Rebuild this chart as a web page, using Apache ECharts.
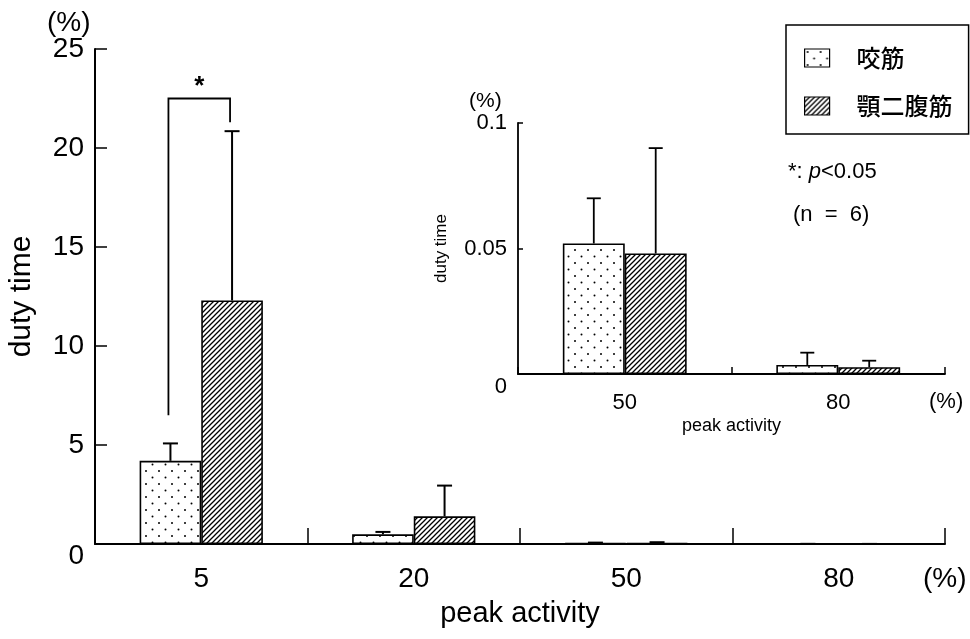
<!DOCTYPE html>
<html>
<head>
<meta charset="utf-8">
<title>duty time vs peak activity</title>
<script src="https://cdn.jsdelivr.net/npm/echarts@6/dist/echarts.min.js"></script>
<style>
  html, body { margin: 0; padding: 0; background: #fff; }
  #chart { width: 970px; height: 639px; }
</style>
</head>
<body>
<div id="chart"></div>
<script>
// Peak-activity groups (% of maximum) and the two muscles
const categories = ['5', '20', '50', '80'];
const seriesNames = ['咬筋', '顎二腹筋'];

// Mean duty time (%) and standard deviation per group
const masseterMean = [4.2, 0.49, 0.052, 0.0036];
const masseterSD = [0.88, 0.12, 0.018, 0.0049];
const digastricMean = [12.3, 1.4, 0.048, 0.0027];
const digastricSD = [8.55, 1.55, 0.042, 0.0026];

// Enlarged panel shows groups from this index on (50 and 80)
const insetStart = 2;

// Axis tick values
const mainYTicks = [0, 5, 10, 15, 20, 25];
const insetYTicks = [0, 0.05, 0.1];

// Significance bracket at the 5% group: left foot, top, right foot (duty time %)
const sigBracket = [6.5, 22.5, 21.3];

const BAR_RATIO = 0.29;
const FONT = "'Liberation Sans', Arial, sans-serif";
const CJK = "'Noto Sans CJK JP', 'Noto Sans CJK SC', sans-serif";

// Fill patterns: sparse staggered dots and dense forward hatching
function dotPattern() {
  const c = document.createElement('canvas');
  c.width = 13; c.height = 13;
  const g = c.getContext('2d');
  g.fillStyle = '#fff'; g.fillRect(0, 0, 13, 13);
  g.fillStyle = '#000';
  g.beginPath(); g.arc(3, 3, 1.0, 0, Math.PI * 2); g.fill();
  g.beginPath(); g.arc(9.5, 9.5, 1.0, 0, Math.PI * 2); g.fill();
  return c;
}
function hatchPattern() {
  const s = 5;
  const c = document.createElement('canvas');
  c.width = s; c.height = s;
  const g = c.getContext('2d');
  g.fillStyle = '#fff'; g.fillRect(0, 0, s, s);
  g.strokeStyle = '#000'; g.lineWidth = 1.3;
  g.beginPath();
  g.moveTo(0, s); g.lineTo(s, 0);
  g.moveTo(-1, 1); g.lineTo(1, -1);
  g.moveTo(s - 1, s + 1); g.lineTo(s + 1, s - 1);
  g.stroke();
  return c;
}
const dotFill = { image: dotPattern(), repeat: 'repeat' };
const hatchFill = { image: hatchPattern(), repeat: 'repeat' };

function tickSpec(ticks) {
  return { min: ticks[0], max: ticks[ticks.length - 1], interval: ticks[1] - ticks[0] };
}

// Error bar: stem from bar top to mean+SD with a short cap
function makeErrorRenderer(lineWidth, cap) {
  return function (params, api) {
    const cat = api.value(0), mean = api.value(1), sd = api.value(2), side = api.value(3);
    const band = api.size([1, 0])[0];
    const x = api.coord([cat, 0])[0] + side * band * BAR_RATIO / 2;
    const y0 = api.coord([cat, mean])[1];
    const y1 = api.coord([cat, mean + sd])[1];
    const st = { stroke: '#000', lineWidth: lineWidth };
    return {
      type: 'group',
      children: [
        { type: 'line', shape: { x1: x, y1: y0, x2: x, y2: y1 }, style: st },
        { type: 'line', shape: { x1: x - cap, y1: y1, x2: x + cap, y2: y1 }, style: st }
      ]
    };
  };
}

function errorData(from) {
  const rows = [];
  for (let i = from; i < categories.length; i++) {
    rows.push([i - from, masseterMean[i], masseterSD[i], -1]);
    rows.push([i - from, digastricMean[i], digastricSD[i], 1]);
  }
  return rows;
}

const zeroLow = {
  formatter: function (v) { return v === 0 ? '{z|0}' : String(v); },
  rich: { z: { padding: [25, 0, 0, 0] } }
};

const chart = echarts.init(document.getElementById('chart'), null, { renderer: 'canvas' });

const mainY = tickSpec(mainYTicks);
const insetY = tickSpec(insetYTicks);
const insetCats = categories.slice(insetStart);

chart.setOption({
  backgroundColor: '#fff',
  animation: false,
  textStyle: { fontFamily: FONT, color: '#000' },
  grid: [
    { left: 95, right: 25, top: 49, bottom: 95, outerBoundsMode: 'none', containLabel: false },
    { left: 518, right: 25, top: 123, bottom: 265, outerBoundsMode: 'none', containLabel: false }
  ],
  legend: {
    orient: 'vertical',
    left: 786, top: 25,
    padding: [21, 16, 16, 18],
    borderColor: '#000', borderWidth: 1.5,
    icon: 'rect',
    itemWidth: 25, itemHeight: 18, itemGap: 24,
    data: seriesNames,
    textStyle: { fontFamily: CJK, fontSize: 24, fontWeight: 500, color: '#000', padding: [0, 0, 0, 22] },
    itemStyle: { borderColor: '#000', borderWidth: 1.2 }
  },
  xAxis: [
    {
      type: 'category', gridIndex: 0, data: categories,
      name: 'peak activity', nameLocation: 'middle', nameGap: 55,
      nameTextStyle: { fontSize: 29, color: '#000' },
      axisLine: { show: true, lineStyle: { color: '#000', width: 2 } },
      axisTick: { show: true, inside: true, length: 16, interval: 0, lineStyle: { color: '#000', width: 1.5 } },
      axisLabel: { fontSize: 28, color: '#000', margin: 21 }
    },
    {
      type: 'category', gridIndex: 1, data: insetCats,
      name: 'peak activity', nameLocation: 'middle', nameGap: 43,
      nameTextStyle: { fontSize: 18, color: '#000' },
      axisLine: { show: true, lineStyle: { color: '#000', width: 1.8 } },
      axisTick: { show: true, inside: true, length: 7, interval: 0, lineStyle: { color: '#000', width: 1.5 } },
      axisLabel: { fontSize: 22, color: '#000', margin: 18 }
    }
  ],
  yAxis: [
    {
      type: 'value', gridIndex: 0, min: mainY.min, max: mainY.max, interval: mainY.interval,
      name: 'duty time', nameLocation: 'middle', nameGap: 58, nameRotate: 90,
      nameTextStyle: { fontSize: 30, color: '#000' },
      axisLine: { show: true, lineStyle: { color: '#000', width: 2 } },
      axisTick: { show: true, inside: true, length: 12, lineStyle: { color: '#000', width: 1.5 } },
      splitLine: { show: false },
      axisLabel: Object.assign({ fontSize: 28, color: '#000', margin: 11 }, zeroLow)
    },
    {
      type: 'value', gridIndex: 1, min: insetY.min, max: insetY.max, interval: insetY.interval,
      name: 'duty time', nameLocation: 'middle', nameGap: 68, nameRotate: 90,
      nameTextStyle: { fontSize: 17, color: '#000' },
      axisLine: { show: true, lineStyle: { color: '#000', width: 1.8 } },
      axisTick: { show: true, inside: true, length: 5, lineStyle: { color: '#000', width: 1.5 } },
      splitLine: { show: false },
      axisLabel: Object.assign({ fontSize: 22, color: '#000', margin: 11 }, zeroLow)
    }
  ],
  graphic: [
    { type: 'text', left: 47, top: 9, style: { text: '(%)', font: '28px ' + FONT, fill: '#000' } },
    { type: 'text', left: 469, top: 91, style: { text: '(%)', font: '21px ' + FONT, fill: '#000' } },
    { type: 'text', left: 923, top: 565, style: { text: '(%)', font: '28px ' + FONT, fill: '#000' } },
    { type: 'text', left: 929, top: 391, style: { text: '(%)', font: '22px ' + FONT, fill: '#000' } },
    {
      type: 'text', left: 788, top: 161,
      style: {
        text: '*: {i|p}<0.05',
        font: '22px ' + FONT, fill: '#000',
        rich: { i: { fontStyle: 'italic', fontSize: 22, fontFamily: FONT } }
      }
    },
    { type: 'text', left: 793, top: 204, style: { text: '(n  =  6)', font: '22px ' + FONT, fill: '#000' } }
  ],
  series: [
    {
      name: seriesNames[0], type: 'bar', xAxisIndex: 0, yAxisIndex: 0,
      data: masseterMean, barWidth: (BAR_RATIO * 100) + '%', barGap: '0%',
      itemStyle: { color: dotFill, borderColor: '#000', borderWidth: 1.6 }
    },
    {
      name: seriesNames[1], type: 'bar', xAxisIndex: 0, yAxisIndex: 0,
      data: digastricMean, barWidth: (BAR_RATIO * 100) + '%', barGap: '0%',
      itemStyle: { color: hatchFill, borderColor: '#000', borderWidth: 1.6 }
    },
    {
      name: seriesNames[0], type: 'bar', xAxisIndex: 1, yAxisIndex: 1,
      data: masseterMean.slice(insetStart), barWidth: (BAR_RATIO * 100) + '%', barGap: '0%',
      itemStyle: { color: dotFill, borderColor: '#000', borderWidth: 1.6 }
    },
    {
      name: seriesNames[1], type: 'bar', xAxisIndex: 1, yAxisIndex: 1,
      data: digastricMean.slice(insetStart), barWidth: (BAR_RATIO * 100) + '%', barGap: '0%',
      itemStyle: { color: hatchFill, borderColor: '#000', borderWidth: 1.6 }
    },
    {
      type: 'custom', xAxisIndex: 0, yAxisIndex: 0, z: 5,
      renderItem: makeErrorRenderer(2, 7.5),
      encode: { x: 0, y: 1 },
      data: errorData(0)
    },
    {
      type: 'custom', xAxisIndex: 1, yAxisIndex: 1, z: 5,
      renderItem: makeErrorRenderer(1.8, 7),
      encode: { x: 0, y: 1 },
      data: errorData(insetStart)
    },
    {
      // significance bracket between the two bars of the 5% group
      type: 'custom', xAxisIndex: 0, yAxisIndex: 0, z: 6,
      encode: { x: 0, y: 2 },
      data: [[0].concat(sigBracket)],
      renderItem: function (params, api) {
        const cat = api.value(0);
        const band = api.size([1, 0])[0];
        const cx = api.coord([cat, 0])[0];
        const xl = cx - band * BAR_RATIO / 2 - 2;
        const xr = cx + band * BAR_RATIO / 2 - 2;
        const yl = api.coord([cat, api.value(1)])[1];
        const yt = api.coord([cat, api.value(2)])[1];
        const yr = api.coord([cat, api.value(3)])[1];
        return {
          type: 'group',
          children: [
            {
              type: 'polyline',
              shape: { points: [[xl, yl], [xl, yt], [xr, yt], [xr, yr]] },
              style: { stroke: '#000', lineWidth: 1.8, fill: null }
            },
            {
              type: 'text',
              style: {
                x: (xl + xr) / 2, y: yt + 1, text: '*',
                font: 'bold 26px ' + FONT, fill: '#000',
                align: 'center', verticalAlign: 'bottom'
              }
            }
          ]
        };
      }
    }
  ]
});
</script>
</body>
</html>
